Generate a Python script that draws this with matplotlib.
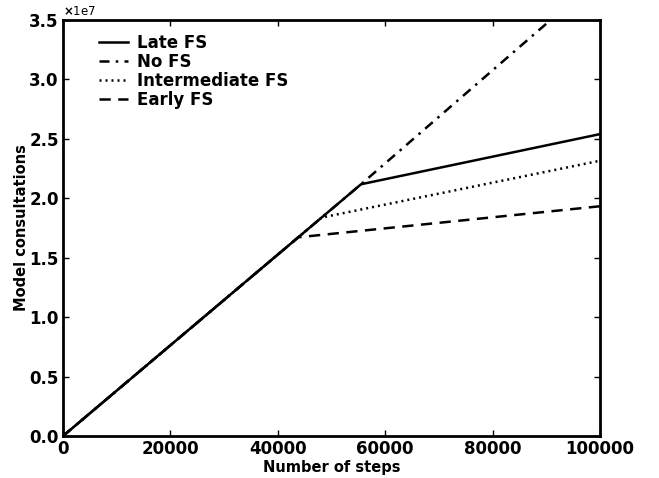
import matplotlib
matplotlib.use("Agg")
import matplotlib.pyplot as plt
from matplotlib.ticker import FuncFormatter

# Data (piecewise linear series)
late_x = [0, 55500, 100000]
late_y = [0, 21.18e6, 25.4e6]
nofs_x = [0, 55500, 100000]
nofs_y = [0, 21.18e6, 38.6e6]
inter_x = [0, 48170, 100000]
inter_y = [0, 18.38e6, 23.16e6]
early_x = [0, 43820, 100000]
early_y = [0, 16.72e6, 19.33e6]

xticks = [0, 20000, 40000, 60000, 80000, 100000]
yticks = [0, 0.5e7, 1.0e7, 1.5e7, 2.0e7, 2.5e7, 3.0e7, 3.5e7]

plt.rcParams['font.family'] = ['DejaVu Sans']
plt.rcParams['font.weight'] = 'bold'

fig = plt.figure(figsize=(6.59, 4.78), dpi=100)
ax = fig.add_axes([63/659, 42/478, (600-63)/659, (436-20)/478])

lw = 1.8
ax.plot(late_x, late_y, color='black', lw=lw, ls='-', label='Late FS', zorder=5)
ax.plot(nofs_x, nofs_y, color='black', lw=lw, ls=(0, (4, 2.5, 1, 2.5)), label='No FS', zorder=3)
ax.plot(inter_x, inter_y, color='black', lw=lw, ls=(0, (0.8, 1.6)), label='Intermediate FS', zorder=3)
ax.plot(early_x, early_y, color='black', lw=lw, ls=(0, (4.5, 3)), label='Early FS', zorder=3)

ax.set_xlim(0, 100000)
ax.set_ylim(0, 3.5e7)
ax.set_xticks(xticks)
ax.set_yticks(yticks)
ax.xaxis.set_major_formatter(FuncFormatter(lambda v, p: f"{int(v)}"))
ax.yaxis.set_major_formatter(FuncFormatter(lambda v, p: f"{v/1e7:.1f}"))
ax.tick_params(direction='in', top=True, right=True, length=4.5, width=1,
               labelsize=12, pad=3)
for lab in ax.get_xticklabels() + ax.get_yticklabels():
    lab.set_fontweight('bold')
for s in ax.spines.values():
    s.set_linewidth(2)

ax.text(0.0, 1.004, r'$\times$1e7', transform=ax.transAxes, fontsize=8.5,
        fontweight='normal', ha='left', va='bottom')

ax.set_xlabel('Number of steps', fontsize=10.5, fontweight='bold', labelpad=1)
ax.set_ylabel('Model consultations', fontsize=10.5, fontweight='bold', labelpad=0.5)

leg = ax.legend(loc='upper left', frameon=False,
                prop={'weight': 'bold', 'size': 12}, handlelength=1.75,
                handletextpad=0.55, labelspacing=0.06, borderaxespad=0.45,
                bbox_to_anchor=(0.04, 1.0))

fig.savefig('out.png', dpi=100)
